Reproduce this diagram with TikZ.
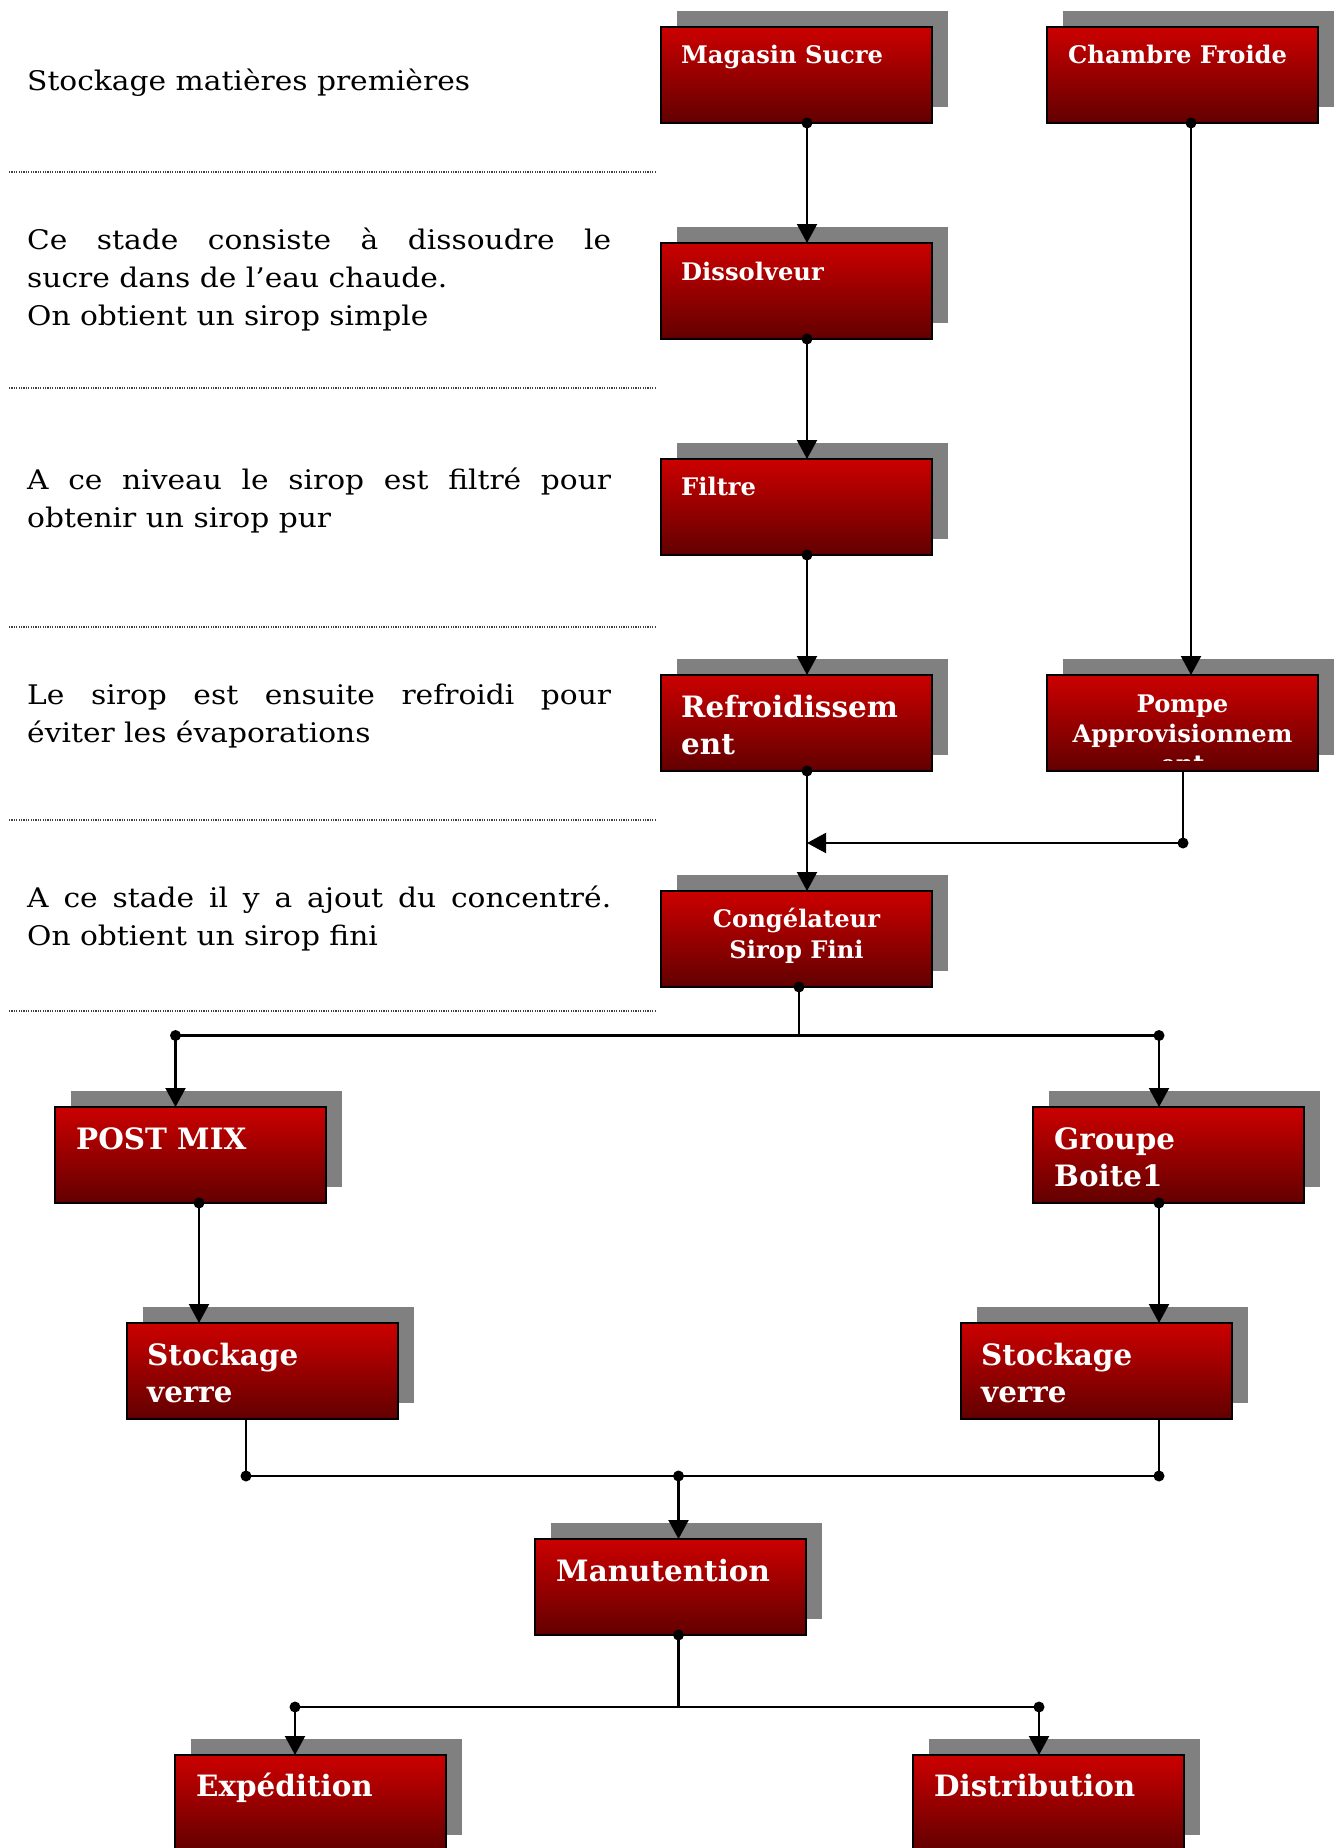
\documentclass[tikz,border=0pt]{standalone}
\usepackage{fontspec}
\setmainfont{DejaVu Serif}[FakeStretch=1.1]
\newfontfamily\labelfont{DejaVu Serif}
\usetikzlibrary{arrows.meta,backgrounds,calc}

\definecolor{redtop}{RGB}{204,0,0}
\definecolor{redbottom}{RGB}{98,0,0}
\definecolor{shadowgrey}{RGB}{128,128,128}

% multi-line nodes below are anchored on the baseline of their last line
\tikzset{
  procbox/.style={draw=black, line width=1.5pt, top color=redtop, bottom color=redbottom,
    minimum width=271pt, minimum height=96pt, inner sep=0pt, outer sep=0pt, anchor=north west},
  lblsmall/.style={text=white, inner sep=0pt, font=\labelfont\bfseries\fontsize{24.2}{30}\selectfont},
  lbllarge/.style={text=white, inner sep=0pt, align=left, font=\labelfont\bfseries\fontsize{29.4}{37.5}\selectfont},
  note/.style={inner sep=0pt, anchor=base west, align=left, font=\fontsize{27}{38}\selectfont},
  link/.style={line width=2.1pt},
  arrowlink/.style={link, -{Triangle[width=20pt,length=19pt]}},
  separator/.style={line width=1.2pt, dash pattern=on 1.2pt off 1.2pt, black!75},
}
\newcommand\jointdot[1]{\fill (#1) circle[radius=5.5pt];}
\newcommand\boxshadow[1]{\fill[shadowgrey] ([shift={(16pt,16pt)}]#1.north west) rectangle ([shift={(16pt,16pt)}]#1.south east);}

\begin{document}
\begin{tikzpicture}[x=1pt,y=-1pt]
\useasboundingbox (0,0) rectangle (1343,1848);

% stage descriptions on the left
\node[note] (n1) at (27,90.5) {Stockage matières premières};
\node[note] (n2) at (27,325) {\makebox[584pt][s]{Ce stade consiste à dissoudre le}\\sucre dans de l’eau chaude.\\On obtient un sirop simple};
\node[note] (n3) at (27,527) {\makebox[584pt][s]{A ce niveau le sirop est filtré pour}\\obtenir un sirop pur};
\node[note] (n4) at (27,742) {\makebox[584pt][s]{Le sirop est ensuite refroidi pour}\\éviter les évaporations};
\node[note] (n5) at (27,945) {\makebox[584pt][s]{A ce stade il y a ajout du concentré.}\\On obtient un sirop fini};

\foreach \yy in {172,388,627,820,1011}
  \draw[separator] (9,\yy) -- (656,\yy);

% process boxes
\node[procbox] (ms)   at (661,27)    {};
\node[procbox] (cf)   at (1047,27)   {};
\node[procbox] (dis)  at (661,243)   {};
\node[procbox] (fil)  at (661,459)   {};
\node[procbox] (ref)  at (661,675)   {};
\node[procbox] (pom)  at (1047,675)  {};
\node[procbox] (cong) at (661,891)   {};
\node[procbox] (pm)   at (55,1107)   {};
\node[procbox] (gb)   at (1033,1107) {};
\node[procbox] (svl)  at (127,1323)  {};
\node[procbox] (svr)  at (961,1323)  {};
\node[procbox] (man)  at (535,1539)  {};
\node[procbox] (exp)  at (175,1755)  {};
\node[procbox] (dist) at (913,1755)  {};

\begin{scope}[on background layer]
  \fill[white] (0,0) rectangle (1343,1848);
  \foreach \b in {ms,cf,dis,fil,ref,pom,cong,pm,gb,svl,svr,man,exp,dist}{
    \boxshadow{\b}
  }
\end{scope}

% box labels
\node[lblsmall, anchor=base west] (ms-t)  at ($(ms.north west)+(20,36)$)  {Magasin Sucre};
\node[lblsmall, anchor=base west] (cf-t)  at ($(cf.north west)+(21,36)$)  {Chambre Froide};
\node[lblsmall, anchor=base west] (dis-t) at ($(dis.north west)+(20,37)$) {Dissolveur};
\node[lblsmall, anchor=base west] (fil-t) at ($(fil.north west)+(20,36)$) {Filtre};
\node[lbllarge, anchor=base west] (ref-t) at ($(ref.north west)+(20,79.5)$) {Refroidissem\\ent};
\begin{scope}
  \clip (pom.north west) rectangle ($(pom.south east)+(0,-11)$);
  \node[lblsmall, anchor=base, align=center] (pom-t) at ($(pom.north)+(0,97)$) {Pompe\\Approvisionnem\\ent};
\end{scope}
\node[lblsmall, anchor=base, align=center, font=\labelfont\bfseries\fontsize{24.2}{31}\selectfont] (cong-t) at ($(cong.north)+(0,67)$) {Congélateur\\Sirop Fini};
\node[lbllarge, anchor=base west] (pm-t)   at ($(pm.north west)+(21,42)$)   {POST MIX};
\node[lbllarge, anchor=base west] (gb-t)   at ($(gb.north west)+(21,79.5)$)   {Groupe\\Boite1};
\node[lbllarge, anchor=base west] (svl-t)  at ($(svl.north west)+(20,79.5)$)  {Stockage\\verre};
\node[lbllarge, anchor=base west] (svr-t)  at ($(svr.north west)+(20,79.5)$)  {Stockage\\verre};
\node[lbllarge, anchor=base west] (man-t)  at ($(man.north west)+(21,42)$)  {Manutention};
\node[lbllarge, anchor=base west] (exp-t)  at ($(exp.north west)+(21,41)$)  {Expédition};
\node[lbllarge, anchor=base west] (dist-t) at ($(dist.north west)+(21,41)$) {Distribution};

% vertical lanes and junctions
\coordinate (xA) at (807,0);
\coordinate (xB) at (1191,0);
\coordinate (xPM) at (199,0);
\coordinate (pj) at (1183,843);
\coordinate (cj) at (799,1035.5);
\coordinate (cjL) at (175.5,1035.5);
\coordinate (cjR) at (1159,1035.5);
\coordinate (sjL) at (246,1476);
\coordinate (sj) at (678.5,1476);
\coordinate (sjR) at (1159,1476);
\coordinate (mj) at (678.5,1707);
\coordinate (mjL) at (295,1707);
\coordinate (mjR) at (1039,1707);

% raw material line
\draw[arrowlink] (ms.south -| xA) -- (dis.north -| xA);
\draw[arrowlink] (dis.south -| xA) -- (fil.north -| xA);
\draw[arrowlink] (fil.south -| xA) -- (ref.north -| xA);
\draw[arrowlink] (ref.south -| xA) -- (cong.north -| xA);
\draw[arrowlink] (cf.south -| xB) -- (pom.north -| xB);
\draw[link] (pom.south -| pj) -- (pj);
\draw[arrowlink] (pj) -- (pj -| xA);

% split towards the two lines
\draw[link] (cong.south -| cj) -- (cj);
\draw[link] (cjL) -- (cjR);
\draw[arrowlink] (cjL) -- (cjL |- pm.north);
\draw[arrowlink] (cjR) -- (cjR |- gb.north);
\draw[arrowlink] (pm.south -| xPM) -- (svl.north -| xPM);
\draw[arrowlink] (gb.south -| cjR) -- (svr.north -| cjR);

% gathering and dispatch
\draw[link] (svl.south -| sjL) -- (sjL) -- (sjR) -- (svr.south -| sjR);
\draw[arrowlink] (sj) -- (sj |- man.north);
\draw[link] (man.south -| mj) -- (mj);
\draw[link] (mjL) -- (mjR);
\draw[arrowlink] (mjL) -- (mjL |- exp.north);
\draw[arrowlink] (mjR) -- (mjR |- dist.north);

% junction dots
\jointdot{ms.south -| xA}
\jointdot{dis.south -| xA}
\jointdot{fil.south -| xA}
\jointdot{ref.south -| xA}
\jointdot{cf.south -| xB}
\jointdot{pj}
\jointdot{cong.south -| cj}
\jointdot{cjL}
\jointdot{cjR}
\jointdot{pm.south -| xPM}
\jointdot{gb.south -| cjR}
\jointdot{sjL}
\jointdot{sj}
\jointdot{sjR}
\jointdot{man.south -| mj}
\jointdot{mjL}
\jointdot{mjR}
\end{tikzpicture}
\end{document}
